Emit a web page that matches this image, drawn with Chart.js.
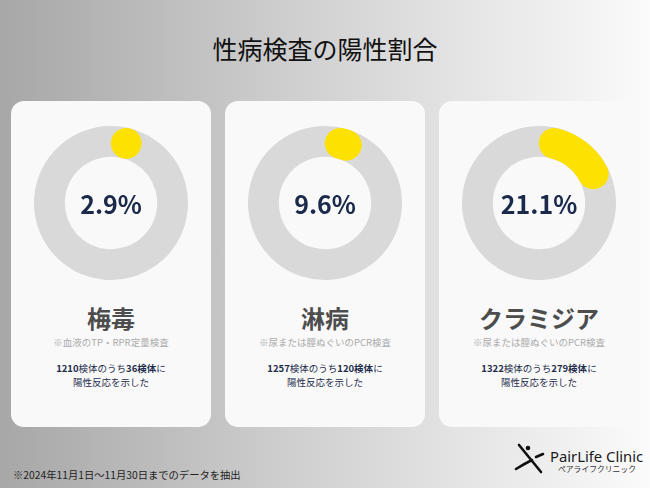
<!DOCTYPE html>
<html lang="ja">
<head>
<meta charset="utf-8">
<script src="https://cdn.jsdelivr.net/npm/chart.js@4/dist/chart.umd.min.js"></script>
<style>
  html, body { margin: 0; padding: 0; }
  body {
    width: 650px; height: 488px; overflow: hidden; position: relative;
    background: linear-gradient(to right, #a7a7a7 0%, #cfcfcf 45%, #fbfbfb 100%);
    font-family: "Noto Sans CJK JP", "Noto Sans", sans-serif;
  }
  .title {
    position: absolute; left: 0; width: 650px; top: 33px;
    text-align: center; font-size: 25px; line-height: 30px; color: #111; font-weight: 400;
  }
  .card {
    position: absolute; top: 101px; width: 200px; height: 326px;
    background: #f9f9f9; border-radius: 13px;
  }
  .card canvas { position: absolute; left: 23px; top: 25px; }
  .pct {
    position: absolute; left: 0; width: 200px; top: 87px; text-align: center;
    font-size: 25px; line-height: 30px; font-weight: 700; color: #1b2a4a;
  }
  .name {
    position: absolute; left: 0; width: 200px; top: 203px; text-align: center;
    font-size: 24px; line-height: 28px; font-weight: 700; color: #4d4d4d;
  }
  .note {
    position: absolute; left: 0; width: 200px; top: 235px; text-align: center;
    font-size: 9.5px; line-height: 12px; color: #ababab;
  }
  .desc {
    position: absolute; left: 0; width: 200px; top: 261px; text-align: center;
    font-size: 9.5px; line-height: 13.5px; color: #1f2d4b;
  }
  .desc b { font-weight: 700; }
  .footer {
    position: absolute; left: 13px; top: 468px; font-size: 10.3px; line-height: 14px; color: #222;
  }
  .logo-en {
    position: absolute; left: 550px; top: 446px; font-size: 14.8px; line-height: 20px; color: #1a1a1a;
    font-family: "Noto Sans", "Open Sans", sans-serif;
  }
  .logo-jp {
    position: absolute; left: 557px; top: 464px; width: 80px; text-align: center;
    font-size: 7.8px; line-height: 10px; color: #333;
  }
  svg.icon { position: absolute; left: 512px; top: 440px; }
</style>
</head>
<body>
<script>
// ---- data ----
const diseases = ['梅毒', '淋病', 'クラミジア'];
const testNotes = ['※血液のTP・RPR定量検査', '※尿または膣ぬぐいのPCR検査', '※尿または膣ぬぐいのPCR検査'];
const totalSamples = [1210, 1257, 1322];
const positiveSamples = [36, 120, 279];
const positiveRates = [2.9, 9.6, 21.1];
const titleText = '性病検査の陽性割合';
const footerText = '※2024年11月1日〜11月30日までのデータを抽出';

const cardLefts = [11, 225, 439];
const YELLOW = '#fde100';
const GREY = '#d9d9d9';

const title = document.createElement('div');
title.className = 'title';
title.textContent = titleText;
document.body.appendChild(title);

// Rounded-cap arc for the positive segment, using the arc element geometry from Chart.js
const roundArcPlugin = {
  id: 'roundArc',
  afterDatasetsDraw(chart) {
    const meta = chart.getDatasetMeta(0);
    const arc = meta.data[0];
    if (!arc) return;
    const { x, y, startAngle, endAngle, innerRadius, outerRadius } = arc;
    const ctx = chart.ctx;
    const half = (outerRadius - innerRadius) / 2;
    const mid = innerRadius + half;
    const capAng = half / mid;
    const a0 = startAngle + capAng;
    const a1 = Math.max(endAngle - capAng, a0);
    ctx.save();
    ctx.fillStyle = YELLOW;
    ctx.strokeStyle = YELLOW;
    if (a1 - a0 < 0.002) {
      ctx.beginPath();
      ctx.arc(x + mid * Math.cos(a0), y + mid * Math.sin(a0), half, 0, Math.PI * 2);
      ctx.fill();
    } else {
      ctx.lineWidth = half * 2;
      ctx.lineCap = 'round';
      ctx.beginPath();
      ctx.arc(x, y, mid, a0, a1);
      ctx.stroke();
    }
    ctx.restore();
  }
};

diseases.forEach((name, i) => {
  const card = document.createElement('div');
  card.className = 'card';
  card.style.left = cardLefts[i] + 'px';

  const canvas = document.createElement('canvas');
  canvas.width = 154; canvas.height = 154;
  canvas.style.width = '154px'; canvas.style.height = '154px';
  card.appendChild(canvas);

  const pct = document.createElement('div');
  pct.className = 'pct';
  pct.textContent = positiveRates[i].toFixed(1) + '%';
  card.appendChild(pct);

  const nm = document.createElement('div');
  nm.className = 'name';
  nm.textContent = name;
  card.appendChild(nm);

  const note = document.createElement('div');
  note.className = 'note';
  note.textContent = testNotes[i];
  card.appendChild(note);

  const desc = document.createElement('div');
  desc.className = 'desc';
  desc.innerHTML = '<b>' + totalSamples[i] + '</b>検体のうち<b>' + positiveSamples[i] + '検体</b>に<br>陽性反応を示した';
  card.appendChild(desc);

  document.body.appendChild(card);

  new Chart(canvas, {
    type: 'doughnut',
    data: {
      labels: ['陽性', '陰性'],
      datasets: [{
        data: [positiveRates[i], 100 - positiveRates[i]],
        backgroundColor: [GREY, GREY],
        borderWidth: 0,
        hoverOffset: 0
      }]
    },
    options: {
      responsive: false,
      animation: false,
      events: [],
      cutout: '60%',
      layout: { padding: 0 },
      plugins: { legend: { display: false }, tooltip: { enabled: false } }
    },
    plugins: [roundArcPlugin]
  });
});

const footer = document.createElement('div');
footer.className = 'footer';
footer.textContent = footerText;
document.body.appendChild(footer);
</script>
<svg class="icon" width="36" height="36" viewBox="0 0 36 36">
  <path d="M7 5 L29 32" stroke="#111" stroke-width="2.6" stroke-linecap="round" fill="none"/>
  <path d="M4 29 Q12 24 20 20" stroke="#111" stroke-width="2.6" stroke-linecap="round" fill="none"/>
  <path d="M24 17 L31 14" stroke="#111" stroke-width="2.6" stroke-linecap="round" fill="none"/>
  <circle cx="16" cy="8" r="2.3" fill="#111"/>
</svg>
<div class="logo-en">PairLife Clinic</div>
<div class="logo-jp">ペアライフクリニック</div>
</body>
</html>
